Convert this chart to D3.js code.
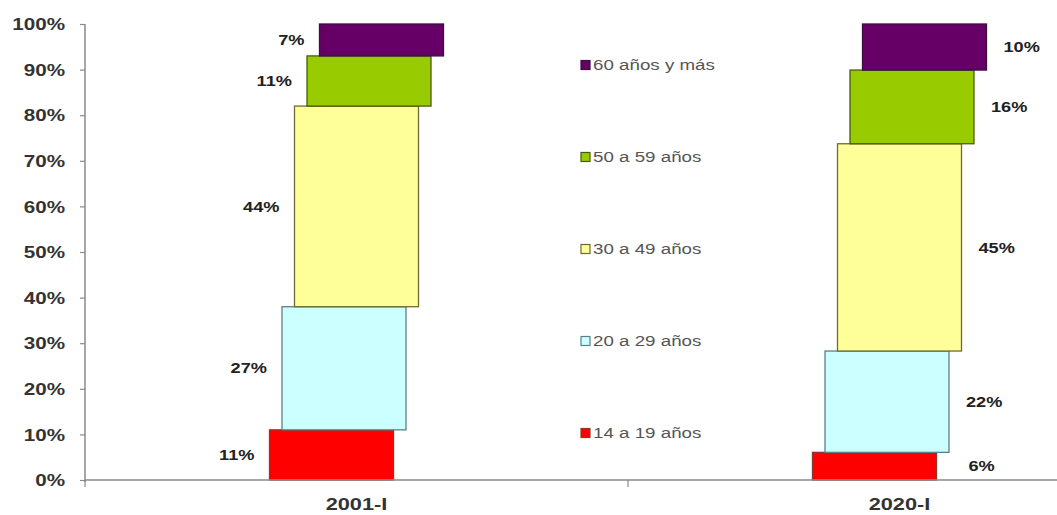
<!DOCTYPE html>
<html>
<head>
<meta charset="utf-8">
<script src="https://cdn.jsdelivr.net/npm/d3@7"></script>
<style>
  html, body { margin: 0; padding: 0; background: #fff; }
  svg { display: block; font-family: "Liberation Sans", Arial, sans-serif; }
</style>
</head>
<body>
<svg id="chart" width="1057" height="515"></svg>
<script>
// Age groups (bottom to top of each stack)
const seriesNames = ["14 a 19 años", "20 a 29 años", "30 a 49 años", "50 a 59 años", "60 años y más"];
const categories = ["2001-I", "2020-I"];

// Share of each age group per period (%)
const age14to19 = [11, 6];
const age20to29 = [27, 22];
const age30to49 = [44, 45];
const age50to59 = [11, 16];
const age60plus = [7, 10];

const yTicks = [0, 0.1, 0.2, 0.3, 0.4, 0.5, 0.6, 0.7, 0.8, 0.9, 1];

const fills   = ["#ff0000", "#ccffff", "#ffff99", "#99cc00", "#660066"];
const strokes = ["#8a3a2a", "#5f7f86", "#6f6a35", "#4a5a10", "#3a1040"];

const seriesValues = [age14to19, age20to29, age30to49, age50to59, age60plus];
const rows = categories.map((c, j) => {
  const r = { category: c };
  seriesNames.forEach((s, i) => { r[s] = seriesValues[i][j]; });
  return r;
});

const stacked = d3.stack()
  .keys(seriesNames)
  .offset(d3.stackOffsetExpand)(rows);

const svg = d3.select("#chart");
const plotLeft = 85, plotRight = 1171, plotTop = 24, plotBottom = 480;

const x = d3.scaleBand().domain(categories).range([plotLeft, plotRight]);
const y = d3.scaleLinear().domain([0, 1]).range([plotBottom, plotTop]);

const barWidth = 124;
const shift = 12.5; // each layer steps right by this much

// Bars
const layer = svg.append("g").selectAll("g")
  .data(stacked)
  .join("g");

layer.selectAll("rect")
  .data((s, i) => s.map(d => ({ d, i, key: s.key })))
  .join("rect")
  .attr("x", o => x(o.d.data.category) + x.bandwidth() / 2 - barWidth / 2 + (o.i - 2) * shift)
  .attr("y", o => y(o.d[1]))
  .attr("width", barWidth)
  .attr("height", o => y(o.d[0]) - y(o.d[1]))
  .attr("fill", o => fills[o.i])
  .attr("stroke", o => strokes[o.i])
  .attr("stroke-width", 1.3);

// Value labels: left of the bars for the first period, right for the second
const labels = svg.append("g");
stacked.forEach((s, i) => {
  s.forEach((d, j) => {
    const left = x(d.data.category) + x.bandwidth() / 2 - barWidth / 2 + (i - 2) * shift;
    const h = y(d[0]) - y(d[1]);
    const cy = (y(d[0]) + y(d[1])) / 2;
    const onLeft = j === 0;
    const gap = h < 30 ? 32 : 17;
    const tx = onLeft ? left - 15 : left + barWidth + gap;
    labels.append("text")
      .attr("transform", `translate(${tx},${cy}) scale(1.3,1)`)
      .attr("text-anchor", onLeft ? "end" : "start")
      .attr("dominant-baseline", "central")
      .attr("font-size", 14)
      .attr("font-weight", "bold")
      .attr("fill", "#222")
      .text(seriesValues[i][j] + "%");
  });
});

// Y axis
const yAxis = svg.append("g")
  .attr("transform", `translate(${plotLeft},0)`)
  .call(d3.axisLeft(y).tickValues(yTicks).tickFormat(d3.format(".0%")).tickSize(5).tickPadding(15));
yAxis.select(".domain").attr("stroke", "#8a8a8a").attr("stroke-width", 1.5)
  .attr("d", `M0,${plotTop}V${plotBottom + 2}`);
yAxis.selectAll(".tick line").attr("stroke", "#8a8a8a").attr("stroke-width", 1.2);
yAxis.selectAll(".tick text")
  .attr("x", null).attr("dy", null)
  .attr("transform", "translate(-20,0) scale(1.25,1)")
  .attr("dominant-baseline", "central")
  .attr("font-size", 16.5)
  .attr("font-weight", "bold")
  .attr("fill", "#333")
  .attr("font-family", "Liberation Sans, Arial, sans-serif");

// X axis
const xAxis = svg.append("g").attr("transform", `translate(0,${plotBottom})`);
xAxis.append("line")
  .attr("x1", plotLeft).attr("x2", 1057)
  .attr("stroke", "#8a8a8a").attr("stroke-width", 1.5);
const boundaries = [plotLeft, ...categories.map(c => x(c) + x.bandwidth())];
xAxis.selectAll("line.tick")
  .data(boundaries)
  .join("line")
  .attr("class", "tick")
  .attr("x1", d => d).attr("x2", d => d)
  .attr("y1", 0).attr("y2", 7)
  .attr("stroke", "#8a8a8a").attr("stroke-width", 1.2);
xAxis.selectAll("text")
  .data(categories)
  .join("text")
  .attr("transform", c => `translate(${x(c) + x.bandwidth() / 2},30) scale(1.28,1)`)
  .attr("text-anchor", "middle")
  .attr("font-size", 17)
  .attr("font-weight", "bold")
  .attr("fill", "#333")
  .text(c => c);

// Legend (top item = top layer)
const legendX = 581, legendTop = 65, legendStep = 92;
const legend = svg.append("g");
seriesNames.slice().reverse().forEach((name, k) => {
  const i = seriesNames.length - 1 - k;
  const cy = legendTop + k * legendStep;
  legend.append("rect")
    .attr("x", legendX).attr("y", cy - 4.5)
    .attr("width", 9).attr("height", 9)
    .attr("fill", fills[i])
    .attr("stroke", strokes[i]).attr("stroke-width", 1.2);
  legend.append("text")
    .attr("transform", `translate(${legendX + 12},${cy}) scale(1.25,1)`)
    .attr("dominant-baseline", "central")
    .attr("font-size", 15)
    .attr("fill", "#555")
    .text(name);
});
</script>
</body>
</html>
